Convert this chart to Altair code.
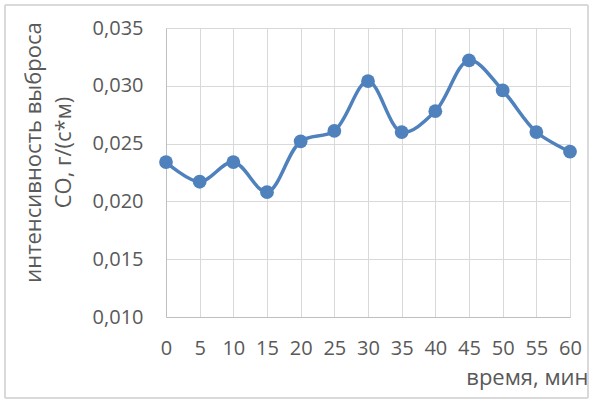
import altair as alt
import pandas as pd

minutes = [0, 5, 10, 15, 20, 25, 30, 35, 40, 45, 50, 55, 60]
emission = [0.0234, 0.0217, 0.0234, 0.0208, 0.0252, 0.0261, 0.0304, 0.0260, 0.0278, 0.0322, 0.0296, 0.0260, 0.0243]

df = pd.DataFrame({"t": minutes, "v": emission})

FONT = "Open Sans"
GRAY = "#595959"
BLUE = "#4F81BD"

x = alt.X("t:Q", scale=alt.Scale(domain=[0, 60], nice=False),
          axis=alt.Axis(values=minutes, title="время, мин", titleAnchor="end",
                        titleAlign="right", titleX=422, titleY=60, titleBaseline="middle",
                        labelPadding=21, ticks=False, domainColor="#BFBFBF",
                        gridColor="#D9D9D9", labelFlush=False, labelOverlap=False))
y = alt.Y("v:Q", scale=alt.Scale(domain=[0.010, 0.035], nice=False, zero=False),
          axis=alt.Axis(values=[0.010, 0.015, 0.020, 0.025, 0.030, 0.035],
                        labelExpr="replace(format(datum.value, '.3f'), '.', ',')",
                        title=["интенсивность выброса", "СО, г/(с*м)"],
                        titleX=-133, titleY=124, titleAlign="center",
                        titleBaseline="middle", titleLineHeight=30,
                        labelPadding=23, ticks=False, domainColor="#BFBFBF",
                        gridColor="#D9D9D9", labelOverlap=False))

frame = alt.Chart(df).mark_rect(fillOpacity=0, stroke="#D9D9D9", strokeWidth=1).encode(
    x=alt.value(-161), x2=alt.value(422), y=alt.value(-23), y2=alt.value(370)
)

line = alt.Chart(df).mark_line(color=BLUE, strokeWidth=3.5, interpolate="catmull-rom").encode(x=x, y=y)
pts = alt.Chart(df).mark_circle(color=BLUE, opacity=1, size=190).encode(x=x, y=y)

chart = alt.layer(line, pts, frame).properties(
    width=404, height=289,
    background="white",
    autosize=alt.AutoSizeParams(type="none"),
    padding={"left": 166, "top": 28, "right": 23, "bottom": 86},
).configure_view(stroke=None).configure_axis(
    labelFont=FONT, titleFont=FONT, labelFontSize=20, titleFontSize=22,
    labelColor=GRAY, titleColor=GRAY, titleFontWeight="normal", grid=True
)

chart.save("out.html", embed_options={"renderer": "svg", "actions": False})
